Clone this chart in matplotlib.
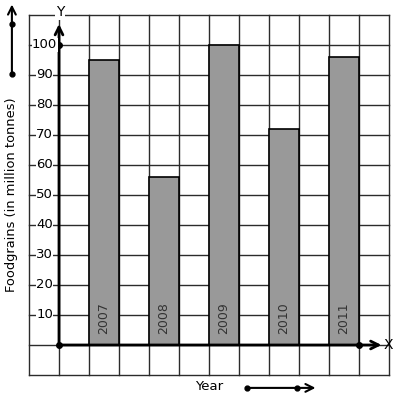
import matplotlib
matplotlib.use("Agg")
import matplotlib.pyplot as plt
import numpy as np

years = ["2007", "2008", "2009", "2010", "2011"]
foodgrains = [95, 56, 100, 72, 96]
y_ticks = [10, 20, 30, 40, 50, 60, 70, 80, 90, 100]

# grid: 1 cell = 1 x unit, 10 y units
bar_left = [1, 3, 5, 7, 9]

fig = plt.figure(figsize=(3.97, 4.01), dpi=100)
ax = fig.add_axes([0, 0, 1, 1])
ax.set_xlim(-59 / 30, (397 - 59) / 30)
ax.set_ylim(-(401 - 345) / 3, 345 / 3)
ax.axis("off")

grid_col = "#2b2b2b"
for gx in range(-1, 12):
    ax.plot([gx, gx], [-10, 110], color=grid_col, lw=1.0, zorder=1)
for gy in range(-10, 111, 10):
    ax.plot([-1, 11], [gy, gy], color=grid_col, lw=1.0, zorder=1)

# bars
ax.bar(bar_left, foodgrains, width=1, align="edge", color="#999999",
       edgecolor="black", linewidth=1.2, zorder=2)
for xl, yr in zip(bar_left, years):
    ax.text(xl + 0.5, 3.7, yr, rotation=90, ha="center", va="bottom",
            fontsize=9, color="#333333", zorder=3)

# axes with arrows
ax.annotate("", xy=(10.75, 0), xytext=(0, 0),
            arrowprops=dict(arrowstyle="->", lw=2, color="black",
                            mutation_scale=14, shrinkA=0, shrinkB=0), zorder=4)
ax.annotate("", xy=(0, 107), xytext=(0, 0),
            arrowprops=dict(arrowstyle="->", lw=2, color="black",
                            mutation_scale=14, shrinkA=0, shrinkB=0), zorder=4)
ax.plot([0, 0, 10], [0, 100, 0], "o", color="black", ms=4, zorder=5)
ax.text(10.97, 0, "X", ha="center", va="center", fontsize=10, zorder=5)
ax.text(0.03, 111, "Y", ha="center", va="center", fontsize=10, zorder=5,
        bbox=dict(facecolor="white", edgecolor="none", pad=0.5))

# y tick labels over the grid lines
for t in y_ticks:
    ax.text(-0.48, t, str(t), ha="center", va="center", fontsize=9.5,
            zorder=5, bbox=dict(facecolor="white", edgecolor="none", pad=0.3))

ax.text(-1.57, 50, "Foodgrains (in million tonnes)", rotation=90,
        ha="center", va="center", fontsize=9.4)
ax.text(5, -14, "Year", ha="center", va="center", fontsize=9.5)

# decorative arrows
ax.annotate("", xy=(8.55, -14.3), xytext=(6.27, -14.3),
            arrowprops=dict(arrowstyle="->", lw=1.5, color="black",
                            mutation_scale=14, shrinkA=0, shrinkB=0))
ax.plot([6.27, 7.93], [-14.3, -14.3], "o", color="black", ms=3.5)
ax.annotate("", xy=(-1.57, 113.5), xytext=(-1.57, 90.3),
            arrowprops=dict(arrowstyle="->", lw=1.5, color="black",
                            mutation_scale=14, shrinkA=0, shrinkB=0))
ax.plot([-1.57, -1.57], [90.3, 107], "o", color="black", ms=3.5)

fig.savefig("out.png", dpi=100)
